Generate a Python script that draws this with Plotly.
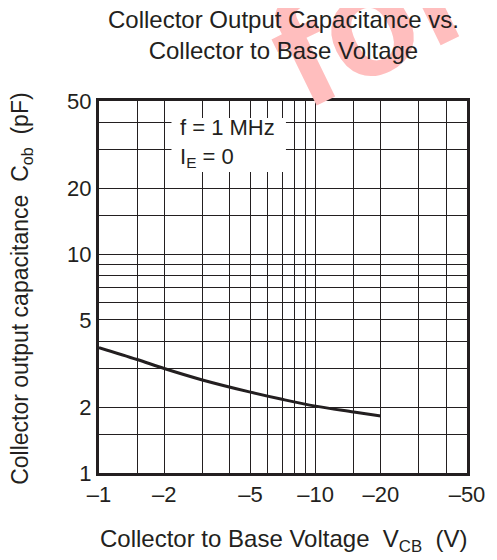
import plotly.graph_objects as go

# Data (|V_CB| in volts, C_ob in pF)
vcb = [1, 1.5, 2, 3, 5, 7, 10, 15, 20]
cob = [3.74, 3.3, 3.0, 2.66, 2.34, 2.17, 2.02, 1.90, 1.82]

grid_vals = [1, 1.5, 2, 3, 4, 5, 6, 7, 8, 9, 10, 15, 20, 30, 40, 50]
x_labels = {1: "–1", 2: "–2", 5: "–5", 10: "–10", 20: "–20", 50: "–50"}
y_labels = {1: "1", 2: "2", 5: "5", 10: "10", 20: "20", 50: "50"}

FONT = "Liberation Sans, Arial, sans-serif"
INK = "#231f20"

fig = go.Figure()
fig.add_trace(go.Scatter(x=vcb, y=cob, mode="lines",
                         line=dict(color=INK, width=3, shape="spline"),
                         showlegend=False, hoverinfo="skip"))

# page body has an 8px margin, so the figure is sized/offset to compensate
fig.update_layout(
    width=489, height=552,
    margin=dict(l=91, r=22, t=93, b=87),
    paper_bgcolor="white", plot_bgcolor="white",
    font=dict(family=FONT, size=22, color=INK),
    showlegend=False,
)
axis_style = dict(type="log", range=[0, 1.69897], tickvals=grid_vals,
                  showgrid=True, gridcolor=INK, gridwidth=1,
                  showline=True, linecolor=INK, linewidth=3, mirror=True,
                  ticks="", zeroline=False, tickfont=dict(size=22, color=INK))
fig.update_xaxes(ticktext=[x_labels.get(v, "") for v in grid_vals], **axis_style)
fig.update_yaxes(ticktext=[y_labels.get(v, "") for v in grid_vals], **axis_style)

# watermark
fig.add_annotation(text="<b>for</b>", xref="paper", yref="paper", x=0.74, y=1.215,
                   xanchor="center", yanchor="middle", showarrow=False,
                   textangle=-26, font=dict(size=150, color="rgb(255,190,190)", family=FONT))

fig.add_annotation(text="Collector Output Capacitance vs.<br>Collector to Base Voltage",
                   xref="paper", yref="paper", x=0.5, y=1.177, yanchor="middle",
                   showarrow=False, font=dict(size=24, color=INK), align="center")

# white label box over the grid
fig.add_shape(type="rect", xref="paper", yref="paper", x0=0.197, x1=0.508, y0=0.809, y1=0.954,
              fillcolor="white", line=dict(width=0), layer="above")
fig.add_annotation(text="f = 1 MHz<br>I<sub>E</sub> = 0", xref="paper", yref="paper",
                   x=0.215, y=0.886, xanchor="left", yanchor="middle", showarrow=False,
                   align="left", font=dict(size=22, color=INK))

fig.add_annotation(text="Collector to Base Voltage  V<sub>CB</sub>  (V)", xref="paper", yref="paper",
                   x=0.5, y=0, yshift=-67, yanchor="middle", showarrow=False,
                   font=dict(size=24, color=INK))
fig.add_annotation(text="Collector output capacitance  C<sub>ob</sub>  (pF)", xref="paper", yref="paper",
                   x=0, xshift=-77, y=0.495, xanchor="center", yanchor="middle", textangle=-90,
                   showarrow=False, font=dict(size=23, color=INK))

fig.write_html("out.html")
